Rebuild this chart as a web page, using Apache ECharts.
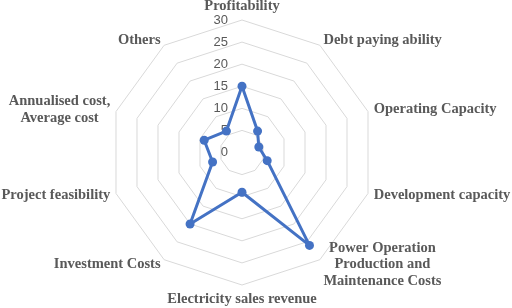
<!DOCTYPE html>
<html><head><meta charset="utf-8">
<script src="https://cdn.jsdelivr.net/npm/echarts@6/dist/echarts.min.js"></script>
<style>html,body{margin:0;padding:0;background:#fff}#c{width:512px;height:308px}</style>
</head><body><div id="c"></div>
<script>
// Indicators in clockwise order starting at the top
var indicatorNames = ['Profitability', 'Debt paying ability', 'Operating Capacity', 'Development capacity',
  'Power Operation\nProduction and\nMaintenance Costs', 'Electricity sales revenue', 'Investment Costs',
  'Project feasibility', 'Annualised cost,\nAverage cost', 'Others'];
var seriesValues = [15, 6, 4, 6, 26, 9, 20, 7, 9, 6];
var tickLabels = [0, 5, 10, 15, 20, 25, 30];

var maxV = tickLabels[tickLabels.length - 1];
// ECharts radar runs counter-clockwise; reverse the tail so the order reads clockwise
var order = [0];
for (var i = indicatorNames.length - 1; i >= 1; i--) order.push(i);

var indicator = order.map(function (idx) {
  var o = { name: indicatorNames[idx], min: 0, max: maxV };
  if (idx === 0) o.axisLabel = { show: true };
  return o;
});
var data = order.map(function (idx) { return seriesValues[idx]; });

var chart = echarts.init(document.getElementById('c'));
chart.setOption({
  animation: false,
  radar: {
    center: [242, 152.5],
    radius: 132.5,
    startAngle: 90,
    splitNumber: tickLabels.length - 1,
    shape: 'polygon',
    indicator: indicator,
    axisName: {
      formatter: function (v) { return '{n|' + v + '}'; },
      rich: {
        n: { align: 'center', fontFamily: 'Liberation Serif', fontWeight: 'bold', fontSize: 14.5, color: '#595959', lineHeight: 16.5 }
      }
    },
    nameGap: 6,
    axisLine: { show: false },
    axisTick: { show: false },
    splitArea: { show: false },
    splitLine: { lineStyle: { color: '#d9d9d9', width: 1 } },
    axisLabel: { show: false, color: '#595959', fontFamily: 'Liberation Sans', fontSize: 13, margin: 14 }
  },
  series: [{
    type: 'radar',
    symbol: 'circle',
    symbolSize: 9,
    lineStyle: { color: '#4472c4', width: 3 },
    itemStyle: { color: '#4472c4' },
    data: [{ value: data }]
  }]
});
</script></body></html>
